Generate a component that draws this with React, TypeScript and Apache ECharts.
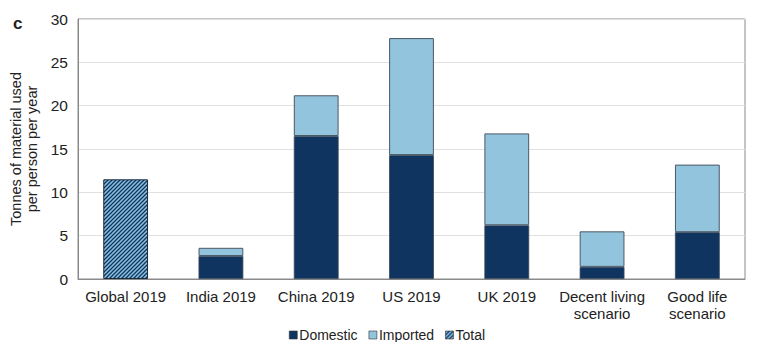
import React, { useEffect, useRef } from "react";
import * as echarts from "echarts";

const categories = [
  "Global 2019",
  "India 2019",
  "China 2019",
  "US 2019",
  "UK 2019",
  "Decent living\nscenario",
  "Good life\nscenario",
];
const domestic: (number | string)[] = ["-", 2.65, 16.5, 14.3, 6.2, 1.4, 5.4];
const imported: (number | string)[] = ["-", 0.95, 4.7, 13.5, 10.6, 4.1, 7.8];
const total: (number | string)[] = [11.5, "-", "-", "-", "-", "-", "-"];
const yTicks = { min: 0, max: 30, interval: 5 };

const DARK = "#0f3460";
const LIGHT = "#92c4dd";
const FONT = "Liberation Sans, Arial, sans-serif";

function makeHatch(): HTMLCanvasElement {
  const s = 4;
  const c = document.createElement("canvas");
  c.width = s;
  c.height = s;
  const ctx = c.getContext("2d")!;
  ctx.fillStyle = "#8cc3e2";
  ctx.fillRect(0, 0, s, s);
  ctx.strokeStyle = DARK;
  ctx.lineWidth = 1.3;
  ctx.beginPath();
  ctx.moveTo(0, s);
  ctx.lineTo(s, 0);
  ctx.moveTo(-1, 1);
  ctx.lineTo(1, -1);
  ctx.moveTo(s - 1, s + 1);
  ctx.lineTo(s + 1, s - 1);
  ctx.stroke();
  return c;
}

export default function App() {
  const ref = useRef<HTMLDivElement>(null);
  useEffect(() => {
    if (!ref.current) return;
    const chart = echarts.init(ref.current, undefined, { renderer: "svg" });
    const hatch = makeHatch();
    chart.setOption({
      animation: false,
      textStyle: { fontFamily: FONT },
      title: {
        text: "c",
        left: 0,
        top: 2,
        textStyle: { fontSize: 17, fontWeight: "bold", color: "#222", fontFamily: FONT },
      },
      grid: {
        left: 70,
        right: 21,
        top: 11,
        bottom: 63,
        show: true,
        borderColor: "#8a8a8a",
        borderWidth: 1,
        containLabel: false,
        outerBoundsMode: "none",
      },
      legend: {
        top: 315,
        left: "center",
        icon: "rect",
        itemWidth: 8,
        itemHeight: 8,
        itemGap: 11,
        itemStyle: { borderColor: "#333", borderWidth: 0.6 },
        textStyle: { fontSize: 14, color: "#222", fontFamily: FONT, padding: [0, 0, 0, -3] },
        data: ["Domestic", "Imported", "Total"],
      },
      xAxis: {
        type: "category",
        data: categories,
        axisTick: { show: false },
        axisLine: { lineStyle: { color: "#8a8a8a" } },
        axisLabel: {
          fontSize: 15,
          color: "#222",
          margin: 9,
          lineHeight: 17,
          interval: 0,
          fontFamily: FONT,
        },
      },
      yAxis: {
        type: "value",
        min: yTicks.min,
        max: yTicks.max,
        interval: yTicks.interval,
        name: "Tonnes of material used\nper person per year",
        nameLocation: "middle",
        nameGap: 37,
        nameTextStyle: { fontSize: 14.5, color: "#222", lineHeight: 16, fontFamily: FONT },
        axisLabel: { fontSize: 15.5, color: "#222", margin: 10, fontFamily: FONT },
        axisLine: { show: true, lineStyle: { color: "#8a8a8a" } },
        splitLine: { lineStyle: { color: "#e0e0e0" } },
      },
      series: [
        {
          name: "Domestic",
          type: "bar",
          stack: "a",
          barWidth: "47%",
          data: domestic,
          itemStyle: { color: DARK, borderColor: "#3a4a5a", borderWidth: 0.8 },
        },
        {
          name: "Imported",
          type: "bar",
          stack: "a",
          data: imported,
          itemStyle: { color: LIGHT, borderColor: "#4a5866", borderWidth: 1 },
        },
        {
          name: "Total",
          type: "bar",
          stack: "a",
          data: total,
          itemStyle: {
            color: { image: hatch, repeat: "repeat" },
            borderColor: "#1a2a3a",
            borderWidth: 1,
          },
        },
      ],
    });
    return () => chart.dispose();
  }, []);
  return <div ref={ref} style={{ width: 758, height: 334 }} />;
}
